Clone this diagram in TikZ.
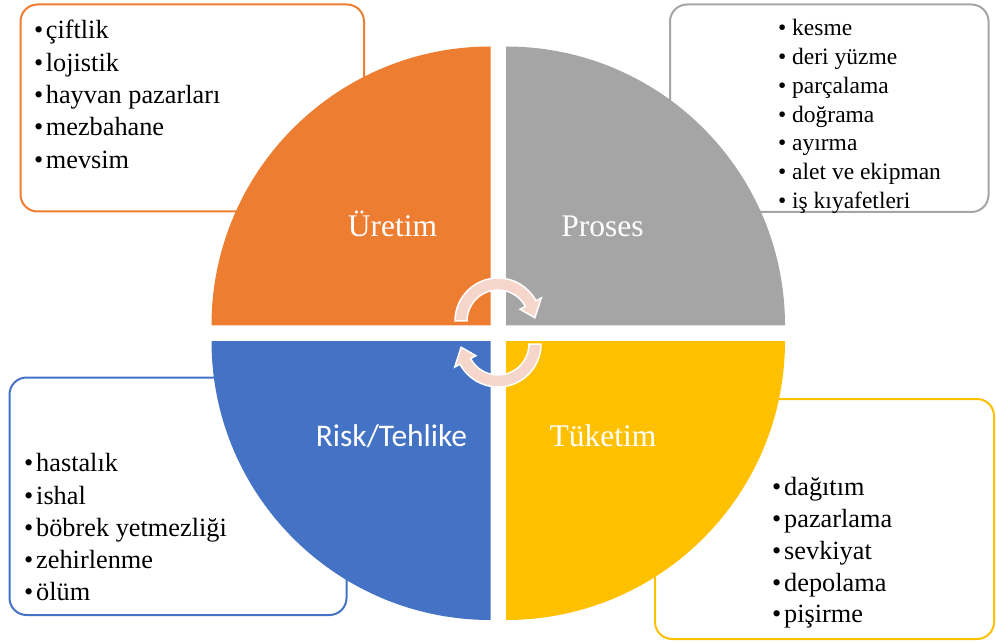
\documentclass[tikz,border=0pt]{standalone}
\usepackage{fontspec}
\setmainfont{Liberation Serif}
\newfontfamily\calibrifont{Carlito}
\definecolor{qorange}{HTML}{ED7D31}
\definecolor{qgray}{HTML}{A5A5A5}
\definecolor{qblue}{HTML}{4472C4}
\definecolor{qyellow}{HTML}{FFC000}
\definecolor{qpeach}{HTML}{F6D5CA}
\newcommand\bul[1]{\makebox[#1][l]{•}}
\begin{document}
\begin{tikzpicture}[x=1pt,y=-1pt,
  listbox/.style={draw=#1, line width=2pt, fill=white, rounded corners=17pt},
  listtext/.style={anchor=base west, inner sep=0pt, font=\fontsize{26.3}{30}\selectfont},
  smalltext/.style={anchor=base west, inner sep=0pt, font=\fontsize{23.5}{28}\selectfont},
  quadlabel/.style={anchor=base, inner sep=0pt, text=white, font=\fontsize{31.5}{36}\selectfont},
  cyclearrow/.style={fill=qpeach, draw=white, line width=1.5pt, line join=miter}]
\useasboundingbox (0,0) rectangle (996,644);

% boxes behind
\draw[listbox=qorange] (20.5,4.5) rectangle (364,211.5);
\draw[listbox=qgray] (670,4.5) rectangle (988.5,212);
\draw[listbox=qblue] (9.5,377.5) rectangle (346.5,615);
\draw[listbox=qyellow] (655,399) rectangle (994,639);

% quadrants
\fill[qorange] (490.5,325.5) -- ++(-279,0) arc[start angle=180, end angle=270, radius=279] -- cycle;
\fill[qgray] (506,325.5) -- ++(0,-279) arc[start angle=270, end angle=360, radius=279] -- cycle;
\fill[qyellow] (506,341) -- ++(279,0) arc[start angle=0, end angle=90, radius=279] -- cycle;
\fill[qblue] (490.5,341) -- ++(0,279) arc[start angle=90, end angle=180, radius=279] -- cycle;

% quadrant labels
\node[quadlabel] (lu) at (392.5,236.7) {Üretim};
\node[quadlabel] (lp) at (602.5,236.7) {Proses};
\node[quadlabel, font=\calibrifont\fontsize{31.5}{36}\selectfont] (lr) at (391.5,446) {Risk/Tehlike};
\node[quadlabel] (lt) at (603,446) {Tüketim};

% cycle arrows
\begin{scope}[shift={(498,321)}, yscale=-1]
\draw[cyclearrow] (180:31) -- (180:43) arc[start angle=180, end angle=28, radius=43]
  -- (28:49) -- (5:37) -- (28:25) -- (28:31) arc[start angle=28, end angle=180, radius=31] -- cycle;
\end{scope}
\begin{scope}[shift={(498,344)}, yscale=-1]
\draw[cyclearrow] (0:31) -- (0:43) arc[start angle=0, end angle=-152, radius=43]
  -- (-152:49) -- (-175:37) -- (-152:25) -- (-152:31) arc[start angle=-152, end angle=0, radius=31] -- cycle;
\end{scope}

% orange list
\node[listtext] (o1) at (34,39) {\bul{11.7pt}çiftlik};
\node[listtext] (o2) at (34,71.3) {\bul{11.7pt}lojistik};
\node[listtext] (o3) at (34,103.6) {\bul{11.7pt}hayvan pazarları};
\node[listtext] (o4) at (34,135.9) {\bul{11.7pt}mezbahane};
\node[listtext] (o5) at (34,168.2) {\bul{11.7pt}mevsim};

% gray list
\node[smalltext] (g1) at (778,36) {\bul{14pt}kesme};
\node[smalltext] (g2) at (778,64.7) {\bul{14pt}deri yüzme};
\node[smalltext] (g3) at (778,93.4) {\bul{14pt}parçalama};
\node[smalltext] (g4) at (778,122.1) {\bul{14pt}doğrama};
\node[smalltext] (g5) at (778,150.8) {\bul{14pt}ayırma};
\node[smalltext] (g6) at (778,179.5) {\bul{14pt}alet ve ekipman};
\node[smalltext] (g7) at (778,208.2) {\bul{14pt}iş kıyafetleri};

% blue list
\node[listtext] (b1) at (24,471.7) {\bul{12pt}hastalık};
\node[listtext] (b2) at (24,504) {\bul{12pt}ishal};
\node[listtext] (b3) at (24,536.3) {\bul{12pt}böbrek yetmezliği};
\node[listtext] (b4) at (24,568.6) {\bul{12pt}zehirlenme};
\node[listtext] (b5) at (24,600.9) {\bul{12pt}ölüm};

% yellow list
\node[listtext] (y1) at (772,495) {\bul{12pt}dağıtım};
\node[listtext] (y2) at (772,527) {\bul{12pt}pazarlama};
\node[listtext] (y3) at (772,559) {\bul{12pt}sevkiyat};
\node[listtext] (y4) at (772,591) {\bul{12pt}depolama};
\node[listtext] (y5) at (772,622.7) {\bul{12pt}pişirme};
\end{tikzpicture}
\end{document}
